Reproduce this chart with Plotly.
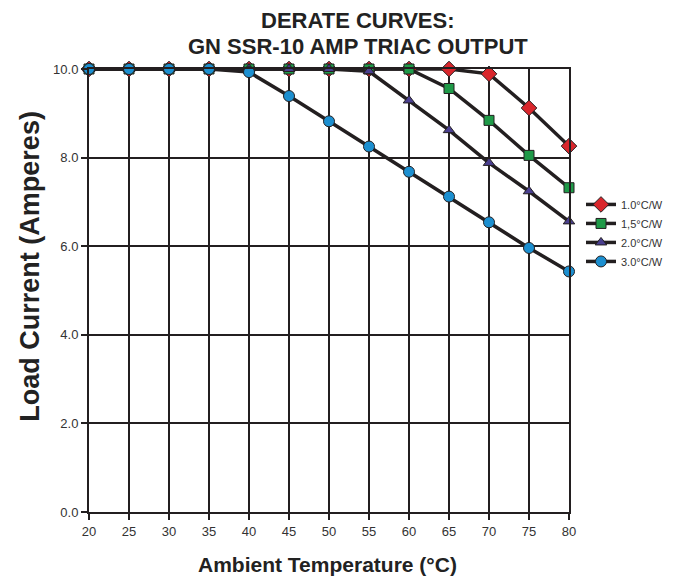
import plotly.graph_objects as go

temps = [20, 25, 30, 35, 40, 45, 50, 55, 60, 65, 70, 75, 80]
x_ticks = [20, 25, 30, 35, 40, 45, 50, 55, 60, 65, 70, 75, 80]
y_ticks = [0, 2, 4, 6, 8, 10]
y_tick_labels = ["0.0", "2.0", "4.0", "6.0", "8.0", "10.0"]

series_names = ["1.0°C/W", "1,5°C/W", "2.0°C/W", "3.0°C/W"]
cw_10 = [10, 10, 10, 10, 10, 10, 10, 10, 10, 10, 9.89, 9.12, 8.26]
cw_15 = [10, 10, 10, 10, 10, 10, 10, 10, 10, 9.56, 8.84, 8.05, 7.32]
cw_20 = [10, 10, 10, 10, 10, 10, 10, 9.95, 9.29, 8.62, 7.88, 7.24, 6.56]
cw_30 = [10, 10, 10, 10, 9.93, 9.39, 8.82, 8.25, 7.68, 7.12, 6.54, 5.96, 5.43]

series_values = [cw_10, cw_15, cw_20, cw_30]
colors = ["#d9262c", "#1f9a48", "#4a3f8f", "#1c8fd0"]
symbols = ["diamond", "square", "triangle-up", "circle"]
sizes = [12, 10, 10, 11]

fig = go.Figure()
for name, vals, c, s, sz in zip(series_names, series_values, colors, symbols, sizes):
    fig.add_trace(go.Scatter(
        x=temps, y=vals, name=name, mode="lines+markers",
        line=dict(color="#231f20", width=3.5),
        marker=dict(symbol=s, size=sz, color=c, line=dict(color="#231f20", width=1)),
        cliponaxis=False,
    ))

sans = "Liberation Sans, Arial, sans-serif"
tick_font = dict(family=sans, size=13, color="#333333")
title_font = dict(family=sans, size=22, color="#222222")

fig.update_layout(
    width=665, height=570,
    margin=dict(l=81, r=104, t=61, b=66, autoexpand=False),
    paper_bgcolor="white", plot_bgcolor="white",
    showlegend=True,
    legend=dict(
        x=1.025, y=0.727, xanchor="left", yanchor="top",
        font=dict(family=sans, size=11, color="#333333"),
        bgcolor="rgba(0,0,0,0)", tracegroupgap=0,
    ),
    xaxis=dict(
        range=[20, 80], tickmode="array", tickvals=x_ticks,
        ticktext=[str(v) for v in x_ticks],
        showgrid=True, gridcolor="#231f20", gridwidth=2,
        showline=True, linecolor="#231f20", linewidth=2, mirror=True,
        ticks="outside", ticklen=6, tickwidth=2, tickcolor="#231f20",
        tickfont=tick_font, zeroline=False, automargin=False,
    ),
    yaxis=dict(
        range=[0, 10], tickmode="array", tickvals=y_ticks, ticktext=y_tick_labels,
        showgrid=True, gridcolor="#231f20", gridwidth=2,
        showline=True, linecolor="#231f20", linewidth=2, mirror=True,
        ticks="outside", ticklen=6, tickwidth=2, tickcolor="#231f20",
        tickfont=tick_font, zeroline=False, automargin=False,
    ),
    annotations=[
        dict(text="<b>DERATE CURVES:</b>", x=0.56, y=1.1084, xref="paper", yref="paper",
             xanchor="center", yanchor="middle", showarrow=False, font=title_font),
        dict(text="<b>GN SSR-10 AMP TRIAC OUTPUT</b>", x=0.56, y=1.0519, xref="paper", yref="paper",
             xanchor="center", yanchor="middle", showarrow=False, font=title_font),
        dict(text="<b>Ambient Temperature (°C)</b>", x=0.497, y=-0.1196, xref="paper", yref="paper",
             xanchor="center", yanchor="middle", showarrow=False,
             font=dict(family=sans, size=21, color="#222222")),
        dict(text="<b>Load Current (Amperes)</b>", x=-0.123, y=0.556, xref="paper", yref="paper",
             xanchor="center", yanchor="middle", showarrow=False, textangle=-90,
             font=dict(family=sans, size=27, color="#222222")),
    ],
)

fig.write_html("out.html")
